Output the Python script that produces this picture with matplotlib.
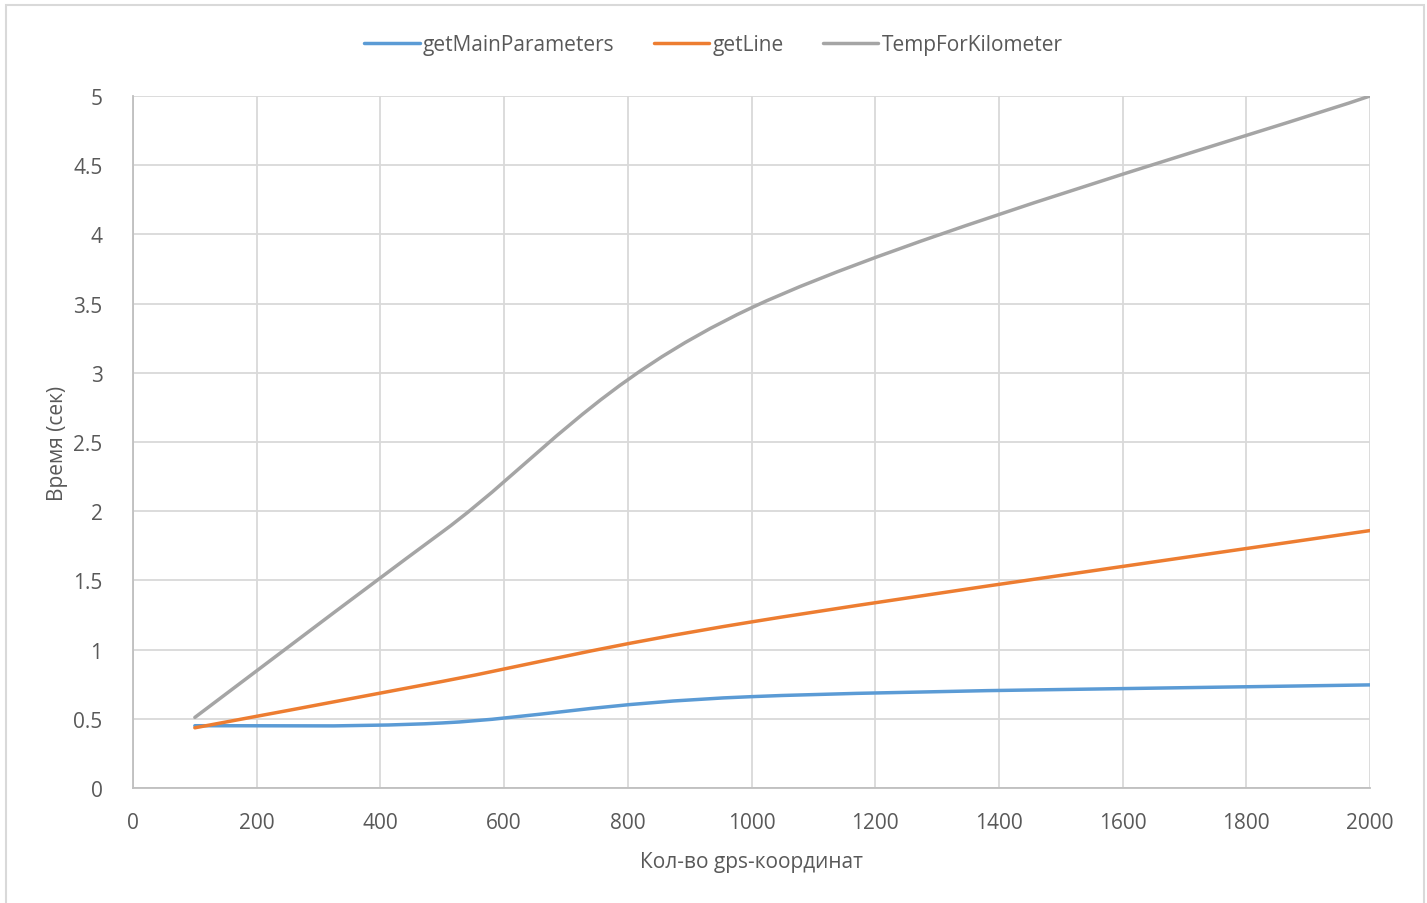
import matplotlib
matplotlib.use("Agg")
import matplotlib.pyplot as plt
from matplotlib.path import Path
from matplotlib.patches import PathPatch, Rectangle
from matplotlib.lines import Line2D

plt.rcParams['font.family'] = ['Open Sans', 'DejaVu Sans']

# data
points = [100, 500, 1000, 2000]
main_params = [0.45, 0.47, 0.66, 0.745]
get_line = [0.435, 0.77, 1.2, 1.86]
temp_km = [0.51, 1.85, 3.47, 5.0]

series_names = ["getMainParameters", "getLine", "TempForKilometer"]
colors = ["#5B9BD5", "#ED7D31", "#A5A5A5"]
x_ticks = [0, 200, 400, 600, 800, 1000, 1200, 1400, 1600, 1800, 2000]
y_ticks = [0, 0.5, 1, 1.5, 2, 2.5, 3, 3.5, 4, 4.5, 5]
y_labels = ["0", "0.5", "1", "1.5", "2", "2.5", "3", "3.5", "4", "4.5", "5"]

text_col = "#595959"
fs = 15


def smooth_path(xs, ys):
    # Excel-like smoothed line: cubic bezier with catmull-rom control points
    n = len(xs)
    verts = [(xs[0], ys[0])]
    codes = [Path.MOVETO]
    for i in range(n - 1):
        x0, y0 = (xs[i - 1], ys[i - 1]) if i > 0 else (xs[i], ys[i])
        x1, y1 = xs[i], ys[i]
        x2, y2 = xs[i + 1], ys[i + 1]
        x3, y3 = (xs[i + 2], ys[i + 2]) if i + 2 < n else (x2, y2)
        c1 = (x1 + (x2 - x0) / 6, y1 + (y2 - y0) / 6)
        c2 = (x2 - (x3 - x1) / 6, y2 - (y3 - y1) / 6)
        verts += [c1, c2, (x2, y2)]
        codes += [Path.CURVE4] * 3
    return Path(verts, codes)


fig = plt.figure(figsize=(14.27, 9.04), dpi=100)
ax = fig.add_axes([133 / 1427, 1 - 789 / 904, (1370 - 133) / 1427, (789 - 97) / 904])

handles = []
for vals, name, c in zip([main_params, get_line, temp_km], series_names, colors):
    patch = PathPatch(smooth_path(points, vals), facecolor="none", edgecolor=c,
                      lw=2.5, capstyle="round", joinstyle="round", zorder=3)
    ax.add_patch(patch)
    handles.append(Line2D([], [], color=c, lw=2.5, solid_capstyle="round"))

ax.set_xlim(0, 2000)
ax.set_ylim(0, 5)
ax.set_xticks(x_ticks)
ax.set_yticks(y_ticks)
ax.set_yticklabels(y_labels)
ax.grid(True, color="#D9D9D9", lw=1.3)
ax.set_axisbelow(True)
ax.tick_params(length=0, labelsize=fs, colors=text_col)
ax.tick_params(axis="x", pad=17)
ax.tick_params(axis="y", pad=22)
for s in ["top", "right"]:
    ax.spines[s].set_visible(False)
for s in ["left", "bottom"]:
    ax.spines[s].set_color("#BFBFBF")
    ax.spines[s].set_linewidth(1.3)

ax.set_xlabel("Кол-во gps-координат", fontsize=fs, color=text_col, labelpad=13)
ax.set_ylabel("Время (сек)", fontsize=fs, color=text_col, labelpad=4)

fig.legend(handles, series_names, loc="center", bbox_to_anchor=(0.5, 1 - 46 / 904),
           ncol=3, frameon=False, fontsize=fs, labelcolor=text_col,
           handlelength=2.65, handletextpad=0.15, columnspacing=1.9)

fig.patches.append(Rectangle((6 / 1427, -0.01), (1424 - 6) / 1427, 1 - 6 / 904 + 0.01,
                             transform=fig.transFigure, fill=False,
                             edgecolor="#D9D9D9", lw=1.5))

fig.savefig("out.png", dpi=100)
